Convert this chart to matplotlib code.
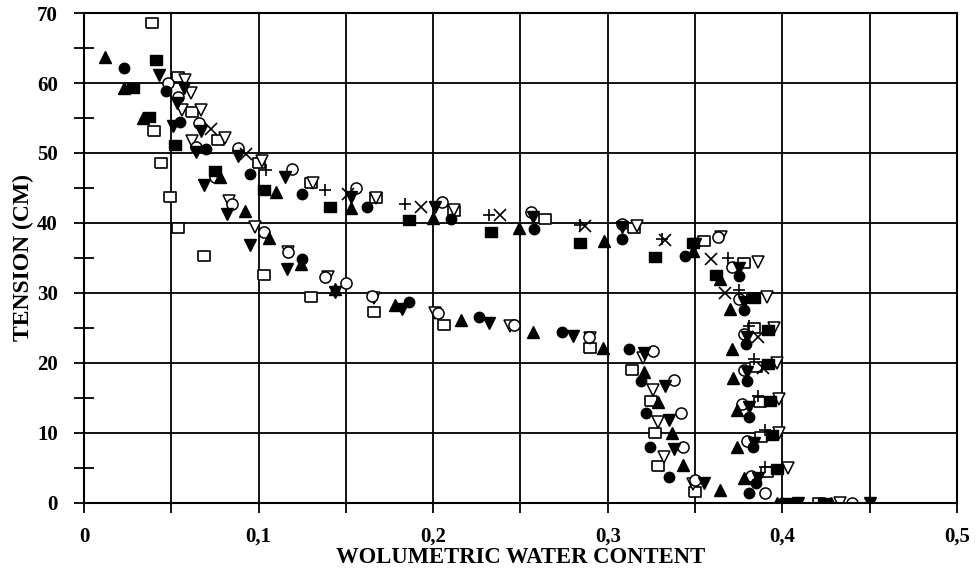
import matplotlib
matplotlib.use("Agg")
from matplotlib import pyplot as plt
from matplotlib.ticker import MultipleLocator, FixedLocator

plt.rcParams['font.family'] = ['Liberation Serif', 'DejaVu Serif']
plt.rcParams['font.weight'] = 'bold'

# filled triangle up
tri_up_x = [0.012, 0.023, 0.034, 0.078, 0.110, 0.153, 0.200, 0.249, 0.298, 0.349,
            0.364, 0.370, 0.371, 0.372, 0.374, 0.374, 0.378, 0.397,
            0.092, 0.106, 0.124, 0.144, 0.178, 0.216, 0.257, 0.297, 0.321, 0.329,
            0.337, 0.343, 0.364, 0.428]
tri_up_y = [63.7, 59.3, 55.0, 46.5, 44.4, 42.1, 40.7, 39.3, 37.4, 36.0,
            32.0, 27.7, 22.0, 17.9, 13.3, 8.0, 3.6, 0,
            41.7, 37.8, 34.1, 30.6, 28.3, 26.1, 24.4, 22.2, 18.7, 14.4,
            10.0, 5.4, 1.9, 0]

# filled circle
circ_x = [0.023, 0.047, 0.055, 0.070, 0.095, 0.125, 0.162, 0.210, 0.258, 0.308,
          0.344, 0.375, 0.378, 0.379, 0.380, 0.381, 0.383, 0.385, 0.400,
          0.125, 0.186, 0.226, 0.274, 0.312, 0.319, 0.322, 0.324, 0.335, 0.381]
circ_y = [62.2, 58.9, 54.4, 50.6, 47.0, 44.2, 42.3, 40.6, 39.2, 37.7,
          35.3, 32.4, 27.5, 22.7, 17.4, 12.3, 8.0, 2.9, 0,
          34.9, 28.7, 26.6, 24.4, 22.0, 17.4, 12.8, 8.0, 3.7, 1.4]

# filled square
sq_x = [0.041, 0.028, 0.037, 0.052, 0.075, 0.103, 0.141, 0.186, 0.233, 0.284,
        0.327, 0.349, 0.362, 0.384, 0.392, 0.392, 0.393, 0.394, 0.397, 0.404, 0.424]
sq_y = [63.3, 59.3, 55.1, 51.2, 47.4, 44.7, 42.3, 40.4, 38.7, 37.1,
        35.1, 37.2, 32.5, 29.3, 24.7, 19.8, 14.6, 9.7, 4.8, 0, 0]

# filled triangle down
tri_dn_x = [0.043, 0.057, 0.053, 0.051, 0.067, 0.064, 0.088, 0.115, 0.153, 0.201,
            0.257, 0.308, 0.350, 0.375, 0.378, 0.380, 0.380, 0.381, 0.384, 0.386, 0.409,
            0.069, 0.082, 0.095, 0.116, 0.144, 0.182, 0.232, 0.280, 0.321, 0.333,
            0.335, 0.338, 0.355, 0.450]
tri_dn_y = [61.1, 59.3, 57.1, 53.9, 53.1, 50.2, 49.6, 46.6, 43.7, 42.3,
            40.8, 39.4, 37.0, 33.5, 28.7, 23.7, 18.7, 13.7, 8.6, 3.6, 0,
            45.4, 41.3, 36.9, 33.4, 30.1, 27.7, 25.7, 23.9, 21.4, 16.7,
            11.8, 7.7, 2.9, 0]

# open square
osq_x = [0.054, 0.062, 0.077, 0.100, 0.130, 0.167, 0.212, 0.264, 0.315, 0.355,
         0.378, 0.383, 0.384, 0.385, 0.387, 0.388, 0.391,
         0.039, 0.040, 0.044, 0.049, 0.054, 0.069, 0.103, 0.130, 0.166, 0.206,
         0.290, 0.314, 0.325, 0.327, 0.329, 0.350, 0.421]
osq_y = [60.9, 55.8, 51.8, 48.5, 45.7, 43.5, 41.7, 40.6, 39.3, 37.4,
         34.3, 29.3, 25.0, 19.4, 14.4, 9.4, 4.4,
         68.6, 53.1, 48.6, 43.7, 39.3, 35.3, 32.6, 29.4, 27.3, 25.4,
         22.1, 19.0, 14.6, 10.0, 5.3, 1.6, 0]

# open circle
ocirc_x = [0.048, 0.054, 0.066, 0.064, 0.088, 0.119, 0.156, 0.205, 0.256, 0.308,
           0.363, 0.371, 0.375, 0.378, 0.378, 0.377, 0.380, 0.382,
           0.075, 0.085, 0.103, 0.117, 0.138, 0.150, 0.165, 0.203, 0.246, 0.289,
           0.326, 0.338, 0.342, 0.343, 0.350, 0.390, 0.440]
ocirc_y = [60.0, 58.0, 54.3, 50.9, 50.7, 47.7, 45.0, 43.0, 41.6, 39.9,
           38.0, 33.7, 29.2, 24.1, 19.0, 14.1, 8.9, 3.9,
           46.6, 42.7, 38.7, 35.9, 32.3, 31.4, 29.5, 27.2, 25.4, 23.7,
           21.7, 17.6, 12.8, 8.0, 3.3, 1.4, 0]

# open triangle down
otri_x = [0.058, 0.061, 0.056, 0.067, 0.062, 0.081, 0.102, 0.131, 0.167, 0.212,
          0.317, 0.365, 0.386, 0.391, 0.395, 0.397, 0.398, 0.398, 0.403, 0.433,
          0.083, 0.098, 0.117, 0.140, 0.166, 0.201, 0.244, 0.290, 0.320, 0.326,
          0.329, 0.332, 0.349]
otri_y = [60.4, 58.6, 56.1, 56.2, 51.7, 52.1, 48.8, 45.7, 43.5, 41.8,
          39.5, 38.0, 34.4, 29.4, 25.0, 20.0, 14.9, 10.0, 5.0, 0,
          43.2, 39.4, 35.9, 32.3, 29.3, 27.2, 25.3, 23.6, 20.7, 16.1,
          11.5, 6.6, 2.7]

# plus
plus_x = [0.104, 0.138, 0.184, 0.232, 0.284, 0.331, 0.369, 0.375, 0.381, 0.384,
          0.386, 0.390, 0.390]
plus_y = [47.6, 44.7, 42.7, 41.2, 39.7, 37.7, 35.0, 30.4, 25.3, 20.6,
          15.3, 10.4, 5.2]

# cross
cross_x = [0.073, 0.093, 0.151, 0.193, 0.238, 0.287, 0.333, 0.359, 0.367, 0.386, 0.389]
cross_y = [53.4, 49.9, 44.2, 42.3, 41.2, 39.6, 37.5, 34.8, 30.0, 23.7, 19.3]

rect = [(-1.3, -1), (1.3, -1), (1.3, 1), (-1.3, 1), (-1.3, -1)]

fig = plt.figure(figsize=(9.77, 5.78), dpi=100)
ax = fig.add_axes([0.086, 0.1298, 0.8935, 0.8477])

ax.plot(osq_x, osq_y, linestyle='none', marker=rect, ms=9, mfc='white', mec='black', mew=1.2)
ax.plot(otri_x, otri_y, linestyle='none', marker='v', ms=9, mfc='white', mec='black', mew=1.1)
ax.plot(ocirc_x, ocirc_y, linestyle='none', marker='o', ms=8, mfc='white', mec='black', mew=1.1)
ax.plot(tri_up_x, tri_up_y, linestyle='none', marker='^', ms=8.5, color='black')
ax.plot(circ_x, circ_y, linestyle='none', marker='o', ms=7.5, color='black')
ax.plot(sq_x, sq_y, linestyle='none', marker=rect, ms=8.5, color='black')
ax.plot(tri_dn_x, tri_dn_y, linestyle='none', marker='v', ms=8.5, color='black')
ax.plot(plus_x, plus_y, linestyle='none', marker='+', ms=9, color='black', mew=1.2)
ax.plot(cross_x, cross_y, linestyle='none', marker='x', ms=8, color='black', mew=1.2)

ax.set_xlim(0, 0.5)
ax.set_ylim(0, 70)

ax.xaxis.set_major_locator(MultipleLocator(0.05))
ax.yaxis.set_major_locator(MultipleLocator(10))
ax.yaxis.set_minor_locator(FixedLocator([5, 15, 25, 35, 45, 55, 65]))

xt = ax.get_xticks()
ax.set_xticklabels(['0' if abs(v) < 1e-9 else (('%.1f' % v).replace('.', ',') if round(v * 20) % 2 == 0 else '') for v in xt])

ax.grid(True, which='major', color='black', linewidth=1.3)
ax.tick_params(axis='x', which='major', direction='out', length=7, width=1.3, pad=10, labelsize=15)
ax.tick_params(axis='y', which='major', direction='out', length=7, width=1.3, pad=12, labelsize=15)
ax.tick_params(axis='y', which='minor', direction='inout', length=14, width=1.3)
for lab in ax.get_xticklabels() + ax.get_yticklabels():
    lab.set_fontweight('bold')

for s in ax.spines.values():
    s.set_linewidth(1.5)

ax.set_xlabel('WOLUMETRIC WATER CONTENT', fontsize=16.3, fontweight='bold', labelpad=0)
ax.set_ylabel('TENSION (CM)', fontsize=17, fontweight='bold', labelpad=2)

fig.savefig('out.png', dpi=100)
